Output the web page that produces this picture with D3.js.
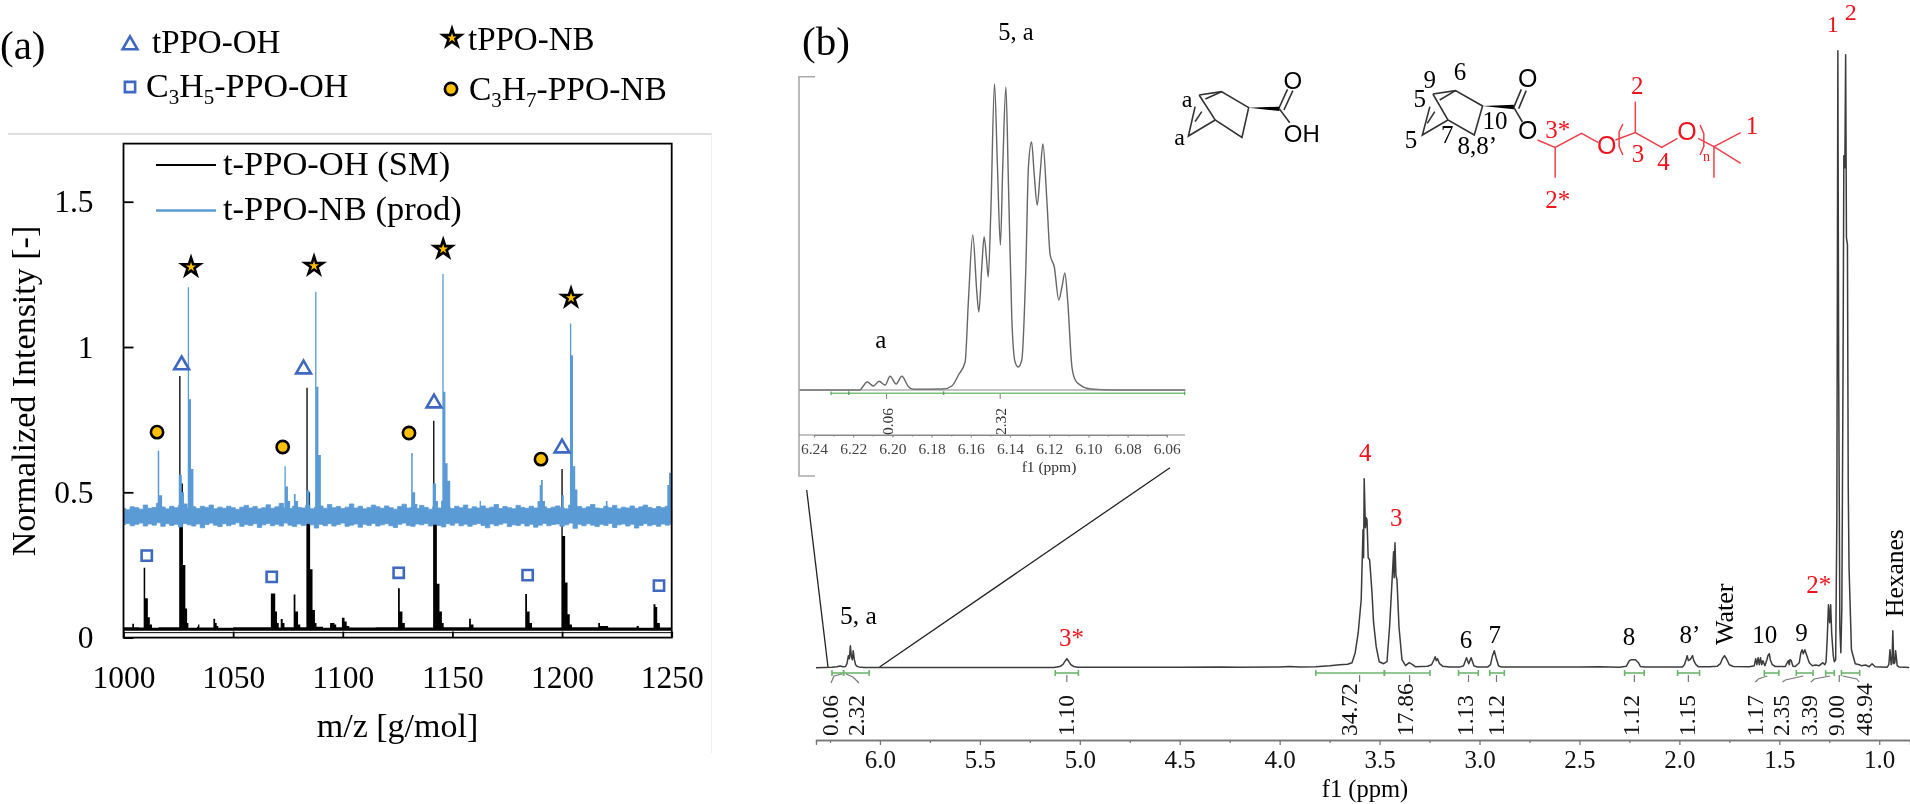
<!DOCTYPE html>
<html>
<head>
<meta charset="utf-8">
<script src="https://cdn.jsdelivr.net/npm/d3@7"></script>
<style>
html, body { margin: 0; padding: 0; background: #fff; }
svg { display: block; filter: blur(0.45px); }
text { font-family: "Liberation Serif", "Times New Roman", serif; fill: #000; }
.axis-a .domain { display: none; }
.axis-a line { stroke: #000; stroke-width: 1.8; }
.axis-a text { font-size: 31.5px; font-family: "Liberation Serif", serif; }
.axis-b .domain, .axis-b line { stroke: #777; stroke-width: 1.3; }
.axis-b text { font-size: 25px; font-family: "Liberation Serif", serif; fill: #111; }
.axis-c .domain, .axis-c line { stroke: #888; stroke-width: 1.2; }
.axis-c text { font-size: 15.5px; font-family: "Liberation Serif", serif; fill: #444; }
</style>
</head>
<body>
<div id="chart"></div>
<script>
// ---- panel (a), MALDI spectra ----
var blackMz = [1000,1004,1004.8,1007,1009.2,1009.9,1011.1,1012,1013,1016,1025.4,1026,1027.1,1028.2,1029,1029.6,1033.5,1034,1034.6,1041,1041.8,1042.5,1043.2,1050,1067.2,1069.2,1070,1070.8,1071.7,1072.6,1073.4,1077.6,1078.4,1079.6,1080.6,1083.4,1084,1085.1,1086.2,1087.3,1088,1091,1094.2,1096.2,1097,1099.6,1100.8,1101.8,1103,1115,1125.2,1126,1127.2,1128.3,1141.2,1141.8,1142.9,1144.1,1145.2,1146,1157.6,1158.4,1159.6,1183.2,1184,1185.2,1186.3,1199.7,1200.3,1201.4,1202.5,1203.5,1204.5,1216.5,1217.3,1220,1221,1234,1235,1241.7,1242.6,1243.4,1244.6,1250];
var blackInt = [.036,.048,.036,.035,.24,.135,.07,.045,.034,.036,.90,.53,.25,.1,.05,.034,.037,.045,.035,.065,.05,.04,.034,.036,.152,.09,.05,.035,.064,.05,.036,.148,.09,.045,.036,.86,.50,.235,.095,.05,.037,.034,.05,.045,.036,.068,.055,.04,.035,.036,.17,.09,.05,.035,.746,.45,.185,.09,.05,.036,.065,.045,.035,.15,.09,.05,.035,.58,.35,.19,.08,.045,.036,.05,.04,.04,.035,.04,.034,.115,.105,.05,.035,.035];

var blueMz = [1000,1015.6,1016.3,1017.6,1018.6,1025.2,1026.6,1027.6,1028.4,1029.3,1029.9,1030.8,1031.9,1073.4,1074,1075,1076,1077.7,1078.5,1079.6,1080,1083.4,1084.8,1085.6,1087.4,1088,1088.9,1090,1090.6,1131.2,1131.9,1133,1134,1141,1142.5,1143.4,1145.4,1146,1146.8,1147.8,1149,1162.4,1163,1189.8,1190.4,1191.2,1192.2,1199.8,1200.8,1203.6,1204.2,1205,1206,1207,1220,1220.7,1248,1248.8,1250];
var blueInt = [.42,.643,.49,.45,.42,.56,.50,.44,.42,1.206,.82,.58,.42,.59,.52,.47,.42,.494,.47,.44,.42,.507,.44,.42,1.19,.863,.628,.45,.42,.635,.5,.46,.42,.53,.47,.42,1.251,.846,.60,.54,.42,.47,.42,.525,.542,.47,.42,.49,.42,1.081,.972,.59,.51,.42,.47,.42,.525,.567,.42];

// noise band of the product trace, read every 2 m/z from 1000 up
var noiseHigh = [.445,.44,.45,.447,.442,.456,.445,.448,.462,.449,
  .443,.452,.447,.455,.46,.446,.45,.444,.452,.448,
  .456,.443,.449,.445,.452,.447,.441,.449,.455,.446,
  .451,.443,.447,.457,.445,.45,.462,.447,.444,.452,
  .448,.446,.455,.443,.449,.453,.445,.458,.447,.451,
  .444,.449,.46,.446,.452,.443,.448,.456,.45,.445,
  .453,.447,.442,.451,.459,.446,.449,.444,.455,.448,
  .442,.45,.446,.47,.448,.444,.452,.447,.456,.443,
  .45,.446,.453,.445,.449,.458,.444,.451,.447,.443,
  .455,.448,.445,.452,.446,.468,.45,.444,.449,.453,
  .447,.443,.456,.448,.451,.445,.45,.458,.446,.444,
  .452,.447,.455,.443,.449,.446,.453,.445,.45,.456,
  .448,.444,.451,.447,.452,.446];
var noiseLow = [.389,.393,.385,.39,.394,.384,.391,.387,.395,.383,
  .392,.386,.39,.381,.393,.388,.384,.391,.378,.389,
  .394,.387,.382,.392,.385,.39,.395,.383,.389,.386,
  .392,.379,.388,.393,.385,.39,.384,.394,.387,.382,
  .391,.386,.393,.388,.377,.39,.385,.392,.384,.389,
  .394,.383,.387,.391,.38,.39,.386,.393,.384,.388,
  .392,.385,.379,.39,.394,.386,.383,.391,.388,.393,
  .384,.39,.386,.381,.392,.387,.394,.385,.39,.383,
  .389,.393,.386,.378,.391,.385,.39,.394,.382,.388,
  .386,.392,.384,.39,.38,.387,.393,.385,.389,.391,
  .383,.388,.394,.376,.39,.385,.392,.387,.382,.39,
  .386,.393,.379,.388,.391,.384,.39,.377,.386,.392,
  .385,.389,.383,.391,.387,.39];

var xTicksA = [1000,1050,1100,1150,1200,1250];
var yTicksA = [0,0.5,1,1.5];

var starMz = [1030.8,1086.9,1145.8,1204.1],     starY = [1.275,1.279,1.337,1.169];
var triMz = [1026.5,1082.1,1141.6,1200],        triY = [.938,.924,.807,.652];
var circMz = [1015.3,1072.6,1130.2,1190.4],     circY = [.707,.656,.704,.614];
var squareMz = [1010.6,1067.6,1125.5,1184.3,1244.2], squareY = [.282,.209,.223,.215,.179];

// ---- panel (b), 1H NMR, intensity in the same units for both scales ----
var nmrPpm = [6.32,6.24,6.215,6.20,6.185,6.172,6.165,6.158,6.153,6.148,6.143,6.138,6.134,6.128,6.122,6.115,6.105,6.08,5.13,5.10,5.085,5.072,5.065,5.058,5.045,5.03,5.01,4.5,4.3,4.2,4.0,3.95,3.9,3.82,3.75,3.70,3.66,3.638,3.622,3.607,3.592,3.583,3.58,3.577,3.571,3.567,3.563,3.557,3.55,3.545,3.538,3.53,3.517,3.502,3.48,3.463,3.45,3.44,3.43,3.427,3.423,3.418,3.413,3.403,3.388,3.37,3.352,3.335,3.322,3.26,3.24,3.228,3.222,3.216,3.21,3.2,3.185,3.15,3.1,3.08,3.065,3.054,3.042,3.028,3.01,2.96,2.945,2.935,2.926,2.917,2.905,2.89,2.5,2.4,2.3,2.265,2.25,2.24,2.22,2.205,2.195,2.17,1.985,1.975,1.965,1.961,1.955,1.947,1.94,1.934,1.928,1.917,1.905,1.85,1.81,1.795,1.785,1.774,1.762,1.75,1.73,1.65,1.625,1.618,1.612,1.606,1.6,1.594,1.588,1.582,1.572,1.562,1.557,1.55,1.545,1.535,1.52,1.47,1.455,1.45,1.447,1.44,1.432,1.42,1.40,1.392,1.386,1.38,1.372,1.362,1.35,1.335,1.318,1.30,1.282,1.272,1.266,1.26,1.254,1.248,1.243,1.238,1.23,1.225,1.218,1.212,1.207,1.203,1.197,1.192,1.187,1.181,1.177,1.172,1.168,1.164,1.159,1.155,1.151,1.139,1.12,1.10,1.09,1.068,1.05,1.036,1.02,.96,.952,.946,.94,.936,.932,.927,.922,.918,.91,.90,.85];
var nmrInt = [0,.5,1,1.6,1,1.2,4,12,9,22,11,8,17,8,3,1.5,.8,.3,.3,1.2,3,7,9,7,3,1.2,.4,.4,.8,.5,.8,1.2,.6,1,2,3,3.5,5,15,35,68,138,110,189,140,150,148,110,108,95,75,45,21,6,4,6,41,78,116,90,125,92,88,41,8,2,5,3,1,1.5,3,8,11,7,9,4,1.5,.6,.6,2,10,4,10,2,.6,.6,3,12,17,10,2,.6,.6,1,.5,1.5,7,8,8,5,1.2,.6,.8,3,9,12,7,8,10,12,7,3,1,1,1.5,4,9,12,8,3,1.2,1,2,9,3,10,3,10,3,7,2,8,12,14,8,3,1.2,1.2,7,3,8,7,1.5,1.2,5,15,18,14,18,12,5,2,2.7,2,5,3,6,30,63,45,63,35,12,6,8,150,617,300,40,15,60,300,512,500,613,430,423,180,100,18,4,3,2,2.7,1,4,1,.5,3,18,3,5,37,4,5,17,2,.6,.3];

var insetPpm = [6.2471,6.2165,6.2157,6.2128,6.2097,6.2068,6.2037,6.2012,6.1981,6.1952,6.1918,6.1893,6.174,6.1697,6.1663,6.1629,6.1612,6.159,6.1569,6.1559,6.1544,6.1532,6.1518,6.1511,6.1498,6.1479,6.1464,6.1449,6.1437,6.1421,6.1408,6.1391,6.1374,6.1358,6.134,6.1319,6.1306,6.129,6.1277,6.1261,6.1246,6.1232,6.1212,6.1195,6.1174,6.1151,6.1135,6.112,6.1106,6.1084,6.1067,6.1042,6.0991,6.0871,6.0505];
var insetInt = [0,0,1.7,8,4,8.7,5,13.7,6,13.7,3.3,.7,1,4,15,28,90,155,97,78,123,153,127,113,177,306,223,145,223,303,207,73,28,23,30,123,223,248,217,185,217,246,190,135,123,90,103,117,90,23,10,5,1,0,0];

var nmrTicks = [6,5.5,5,4.5,4,3.5,3,2.5,2,1.5,1];
var nmrMinor = [6.25,5.75,5.25,4.75,4.25,3.75,3.25,2.75,2.25,1.75,1.25];
var insetTicks = [6.24,6.22,6.20,6.18,6.16,6.14,6.12,6.10,6.08,6.06];
var insetMinor = [6.23,6.21,6.19,6.17,6.15,6.13,6.11,6.09,6.07];

var integralFrom = [6.24,6.182,5.123,3.819,3.476,3.105,2.949,2.274,2.009,1.575,1.415,1.268,1.189];
var integralTo   = [6.182,6.054,5.007,3.476,3.248,3.006,2.876,2.176,1.899,1.502,1.331,1.225,1.098];
var integralLabels = ["0.06","2.32","1.10","34.72","17.86","1.13","1.12","1.12","1.15","1.17","2.35","3.39","9.00","48.94"];
var integralLabelPpm = [6.21,6.078,5.028,3.614,3.334,3.032,2.879,2.201,1.92,1.583,1.453,1.311,1.176,1.036];
var integralTickPpm = [5.065,3.60,3.35,3.055,2.915,2.225,1.955,1.2];

var insetFrom = [6.2313,6.2223,6.1739], insetTo = [6.2223,6.1739,6.0509];
var insetLabels = ["0.06","2.32"], insetLabelPpm = [6.203,6.145];

var peakLabels = ["5, a","3*","4","3","6","7","8","8’","10","9","2*","1","2"];
var peakPpm = [6.108,5.041,3.572,3.417,3.068,2.924,2.252,1.947,1.573,1.389,1.303,1.232,1.142];
var peakInt = [44,22,207,142,20,25,23,25,25,27,75,636,648];
var peakRed = ["3*","4","3","2*","1","2"];

// ---- drawing ----
var width = 1910, height = 804;
var svg = d3.select("#chart").append("svg")
    .attr("width", width)
    .attr("height", height);

function label(g, str, x, y, size, anchor, color, rotate) {
    var t = g.append("text")
        .attr("font-size", size)
        .attr("text-anchor", anchor || "start")
        .style("fill", color || "#000")
        .text(str);
    if (rotate) {
        t.attr("transform", "translate(" + x + "," + y + ") rotate(-90)");
    } else {
        t.attr("x", x).attr("y", y);
    }
    return t;
}

function poly(g, pts, sx, sy, color, w) {
    g.append("path")
        .attr("d", d3.line().x(function (d) { return sx(d[0]); }).y(function (d) { return sy(d[1]); })(pts))
        .attr("fill", "none")
        .attr("stroke", color)
        .attr("stroke-width", w);
}

// marker glyphs used both in the plot and the legend above it
function marker(g, type, x, y) {
    var shape = { star: d3.symbolStar, tri: d3.symbolTriangle, circ: d3.symbolCircle, square: d3.symbolSquare }[type];
    var size = { star: 100, tri: 95, circ: 118, square: 105 }[type];
    g.append("path")
        .attr("d", d3.symbol(shape, size)())
        .attr("transform", "translate(" + x + "," + y + ")")
        .attr("fill", type == "star" || type == "circ" ? "#ffc000" : "#fff")
        .attr("stroke", type == "star" || type == "circ" ? "#000" : "#3f68c0")
        .attr("stroke-width", type == "star" ? 2.6 : 2.6)
        .attr("stroke-linejoin", "miter")
        .attr("stroke-miterlimit", 8);
}

// ---------- panel (a)
var a = svg.append("g");
var x = d3.scaleLinear().domain([1000, 1250]).range([123.5, 671.7]);
var y = d3.scaleLinear().domain([0, 1.7]).range([637.6, 143.6]);

a.append("line").attr("x1", 8).attr("x2", 712).attr("y1", 134).attr("y2", 134).attr("stroke", "#d4d4d4").attr("stroke-width", 1.5);
a.append("line").attr("x1", 711.5).attr("x2", 711.5).attr("y1", 134).attr("y2", 753).attr("stroke", "#eeeeee").attr("stroke-width", 1);

label(a, "(a)", 0, 59, 41);
label(a, "(b)", 802, 55, 41);

marker(a, "tri", 130, 45);
label(a, "tPPO-OH", 152, 53, 33);
marker(a, "square", 130, 87);
var c5 = label(a, "C", 146, 97, 34);
c5.append("tspan").attr("font-size", 21).attr("dy", 7).text("3");
c5.append("tspan").attr("dy", -7).text("H");
c5.append("tspan").attr("font-size", 21).attr("dy", 7).text("5");
c5.append("tspan").attr("dy", -7).text("-PPO-OH");
marker(a, "star", 452, 38);
label(a, "tPPO-NB", 468, 50, 33);
marker(a, "circ", 451, 89);
var c7 = label(a, "C", 469, 100, 33.5);
c7.append("tspan").attr("font-size", 21).attr("dy", 7).text("3");
c7.append("tspan").attr("dy", -7).text("H");
c7.append("tspan").attr("font-size", 21).attr("dy", 7).text("7");
c7.append("tspan").attr("dy", -7).text("-PPO-NB");

var blackArea = d3.area()
    .curve(d3.curveStepAfter)
    .x(function (d) { return x(d[0]); })
    .y0(y(0.024))
    .y1(function (d) { return y(d[1]); });
a.append("path").attr("d", blackArea(d3.zip(blackMz, blackInt))).attr("fill", "#000");

var blueArea = d3.area()
    .curve(d3.curveStepAfter)
    .x(function (d) { return x(d[0]); })
    .y0(y(0.41))
    .y1(function (d) { return y(d[1]); });
a.append("path").attr("d", blueArea(d3.zip(blueMz, blueInt))).attr("fill", "#5b9bd5");

var noise = noiseHigh.map(function (v, i) { return [1000 + i * 2, v, noiseLow[i]]; });
a.append("path")
    .attr("d", d3.area()
        .curve(d3.curveStep)
        .x(function (d) { return x(d[0]); })
        .y0(function (d) { return y(d[2]); })
        .y1(function (d) { return y(d[1]); })(noise))
    .attr("fill", "#5b9bd5")
    .attr("stroke", "#5b9bd5")
    .attr("stroke-width", 0.8);

// frame and the axis line just under the black trace
a.append("rect")
    .attr("x", x(1000)).attr("y", y(1.7))
    .attr("width", x(1250) - x(1000)).attr("height", y(0) - y(1.7))
    .attr("fill", "none").attr("stroke", "#000").attr("stroke-width", 1.8);
a.append("line")
    .attr("x1", x(1000)).attr("x2", x(1250))
    .attr("y1", y(0.017)).attr("y2", y(0.017))
    .attr("stroke", "#000").attr("stroke-width", 1);

a.append("g").attr("class", "axis-a")
    .attr("transform", "translate(0," + y(0) + ")")
    .call(d3.axisBottom(x).tickValues(xTicksA).tickSize(-6).tickPadding(28).tickFormat(d3.format("d")));
a.append("g").attr("class", "axis-a")
    .attr("transform", "translate(" + x(1000) + ",0)")
    .call(d3.axisLeft(y).tickValues(yTicksA).tickSize(-10).tickPadding(30).tickFormat(function (d) { return d; }));

label(a, "m/z [g/mol]", 397.5, 737, 34, "middle");
label(a, "Normalized Intensity [-]", 35, 391, 34, "middle", "#000", true);

a.append("line").attr("x1", 156).attr("x2", 216).attr("y1", 165).attr("y2", 165).attr("stroke", "#000").attr("stroke-width", 2);
label(a, "t-PPO-OH (SM)", 223, 175, 34.5);
a.append("line").attr("x1", 156).attr("x2", 216).attr("y1", 210.5).attr("y2", 210.5).attr("stroke", "#5b9bd5").attr("stroke-width", 2.4);
label(a, "t-PPO-NB (prod)", 223, 220, 34.5);

starMz.forEach(function (m, i) { marker(a, "star", x(m), y(starY[i])); });
triMz.forEach(function (m, i) { marker(a, "tri", x(m), y(triY[i])); });
circMz.forEach(function (m, i) { marker(a, "circ", x(m), y(circY[i])); });
squareMz.forEach(function (m, i) { marker(a, "square", x(m), y(squareY[i])); });

// ---------- panel (b) main spectrum
var b = svg.append("g");
var px = d3.scaleLinear().domain([6.32, 0.846]).range([816, 1910]);
var py = d3.scaleLinear().domain([0, 620]).range([667.7, 47.7]);

var specLine = d3.line()
    .x(function (d) { return px(d[0]); })
    .y(function (d) { return py(d[1]); });

// zoom guide lines
b.append("line").attr("x1", 806.7).attr("y1", 490).attr("x2", 828).attr("y2", 667).attr("stroke", "#222").attr("stroke-width", 1.3);
b.append("line").attr("x1", 879.6).attr("y1", 667).attr("x2", 1170).attr("y2", 467.7).attr("stroke", "#222").attr("stroke-width", 1.3);

b.append("path").attr("d", specLine(d3.zip(nmrPpm, nmrInt)))
    .attr("fill", "none").attr("stroke", "#3c3c3c").attr("stroke-width", 1.5).attr("stroke-linejoin", "round");

var intY = 673;
integralFrom.forEach(function (from, i) {
    var g = b.append("g").attr("stroke", "#6cb56c").attr("stroke-width", 1.6);
    g.append("line").attr("x1", px(from)).attr("x2", px(integralTo[i])).attr("y1", intY).attr("y2", intY);
    [from, integralTo[i]].forEach(function (p) {
        g.append("line").attr("x1", px(p)).attr("x2", px(p)).attr("y1", intY - 3).attr("y2", intY + 3);
    });
});
integralTickPpm.forEach(function (p) {
    b.append("line").attr("x1", px(p)).attr("x2", px(p)).attr("y1", 675).attr("y2", 682).attr("stroke", "#777").attr("stroke-width", 1.2);
});

// curved integral leaders in spectrum coordinates
var leaders = [
    [[6.245, 683], [6.23, 676], [6.19, 674]],
    [[6.17, 674], [6.135, 677], [6.105, 683]],
    [[1.62, 682], [1.605, 679], [1.56, 676]],
    [[1.484, 682], [1.47, 680], [1.38, 676]],
    [[1.342, 682], [1.325, 679], [1.246, 676]],
    [[1.183, 676], [1.112, 679], [1.10, 682]]
];
leaders.forEach(function (l) {
    poly(b, l, px, function (v) { return v; }, "#777", 1.2);
});

integralLabels.forEach(function (t, i) {
    label(b, t, px(integralLabelPpm[i]), 736, 23.5, "start", "#111", true);
});

b.append("g").attr("class", "axis-b")
    .attr("transform", "translate(0,740)")
    .call(d3.axisBottom(px).tickValues(nmrTicks).tickSize(5).tickPadding(5).tickFormat(d3.format(".1f")));
b.append("g").attr("class", "axis-b")
    .attr("transform", "translate(0,740)")
    .call(d3.axisBottom(px).tickValues(nmrMinor).tickSize(3).tickFormat(""));
label(b, "f1 (ppm)", 1365, 797, 24.5, "middle");

peakLabels.forEach(function (t, i) {
    var size = (t == "1" || t == "2") ? 24 : (t == "5, a" ? 25.5 : 25);
    label(b, t, px(peakPpm[i]), py(peakInt[i]), size, "middle", peakRed.indexOf(t) >= 0 ? "#f0141e" : "#000");
});
label(b, "Water", 1733, 645, 26, "start", "#000", true);
label(b, "Hexanes", 1902.5, 617, 25.5, "start", "#000", true);

// ---------- panel (b) inset
var ix = d3.scaleLinear().domain([6.24, 6.06]).range([814, 1166.8]);
var iy = d3.scaleLinear().domain([0, 306]).range([390, 84]);

poly(b, [[815, 76.7], [799, 76.7], [799, 476], [815, 476]], function (v) { return v; }, function (v) { return v; }, "#aaa", 1.6);

b.append("path")
    .attr("d", d3.line().x(function (d) { return ix(d[0]); }).y(function (d) { return iy(d[1]); }).curve(d3.curveMonotoneX)(d3.zip(insetPpm, insetInt)))
    .attr("fill", "none").attr("stroke", "#666").attr("stroke-width", 1.4);

insetFrom.forEach(function (from, i) {
    b.append("line").attr("x1", ix(from)).attr("x2", ix(insetTo[i])).attr("y1", 393.3).attr("y2", 393.3).attr("stroke", "#7cc07c").attr("stroke-width", 1.6);
    [from, insetTo[i]].forEach(function (p) {
        b.append("line").attr("x1", ix(p)).attr("x2", ix(p)).attr("y1", 391.5).attr("y2", 395).attr("stroke", "#5aa85a").attr("stroke-width", 1.3);
    });
});
insetLabelPpm.forEach(function (p, i) {
    b.append("line").attr("x1", ix(p)).attr("x2", ix(p)).attr("y1", 394).attr("y2", 399).attr("stroke", "#888").attr("stroke-width", 1.1);
    label(b, insetLabels[i], ix(p) + 6, 435, 15.5, "start", "#333", true);
});

b.append("g").attr("class", "axis-c")
    .attr("transform", "translate(0,435)")
    .call(d3.axisBottom(ix).tickValues(insetTicks).tickSize(2.5).tickSizeOuter(0).tickPadding(5).tickFormat(d3.format(".2f")));
b.append("g").attr("class", "axis-c")
    .attr("transform", "translate(0,435)")
    .call(d3.axisBottom(ix).tickValues(insetMinor).tickSize(1.5).tickFormat(""));
// the inset rules run a little past the scale, out to the bracket and to the right end
b.append("line").attr("x1", 799).attr("x2", 1185).attr("y1", 435).attr("y2", 435).attr("stroke", "#888").attr("stroke-width", 1.2);
b.append("line").attr("x1", 799).attr("x2", 1185).attr("y1", 390).attr("y2", 390).attr("stroke", "#888").attr("stroke-width", 1.2);
label(b, "f1 (ppm)", 1049, 471.7, 15.5, "middle", "#333");
label(b, "a", 880.7, 348, 25, "middle");
label(b, "5, a", 1016, 39.5, 24.5, "middle");

// ---------- structures
var acid = svg.append("g");
var ax = d3.scaleLinear().domain([0, 1568]).range([1100, 1800]);
var ay = d3.scaleLinear().domain([0, 660]).range([30, 250]);
[
    [[222,195],[272,185],[333,233],[318,322],[258,270],[222,195]],
    [[258,270],[198,318],[213,230]],
    [[213,275],[228,245]],
    [[236,207],[272,185]],
    [[400,237],[420,178]],
    [[412,240],[432,182]],
    [[402,237],[425,278]]
].forEach(function (p) { poly(acid, p, ax, ay, "#333", 1.6); });
acid.append("polygon")
    .attr("points", [[333,233],[402,230],[402,243]].map(function (p) { return ax(p[0]) + "," + ay(p[1]); }).join(" "))
    .attr("fill", "#000");
label(acid, "a", ax(195), ay(232), 24, "middle");
label(acid, "a", ax(178), ay(345), 24, "middle");
label(acid, "O", ax(432), ay(178), 24, "middle").style("font-family", "'Liberation Sans', sans-serif");
label(acid, "OH", ax(452), ay(335), 24, "middle").style("font-family", "'Liberation Sans', sans-serif");

var ester = svg.append("g");
var ex = d3.scaleLinear().domain([0, 1568]).range([1320, 1910]);
var ey = d3.scaleLinear().domain([0, 900]).range([0, 300]);
[
    [[300,282],[360,272],[432,318],[410,405],[340,360],[300,282]],
    [[340,360],[272,405],[292,320]],
    [[285,370],[305,335]],
    [[318,300],[360,272]],
    [[515,322],[535,268]],
    [[528,326],[548,272]],
    [[515,322],[538,366]]
].forEach(function (p) { poly(ester, p, ex, ey, "#333", 1.6); });
ester.append("polygon")
    .attr("points", [[432,318],[515,314],[515,328]].map(function (p) { return ex(p[0]) + "," + ey(p[1]); }).join(" "))
    .attr("fill", "#000");
[
    [[578,420],[625,442],[695,400],[740,428]],
    [[625,442],[625,533]],
    [[785,420],[838,398],[908,442],[950,415]],
    [[838,398],[838,305]],
    [[1005,415],[1047,440],[1118,398]],
    [[1047,440],[1118,490]],
    [[1047,440],[1047,533]],
    [[805,372],[795,395],[795,440],[805,465]],
    [[1010,375],[1020,400],[1020,440],[1010,465]]
].forEach(function (p) { poly(ester, p, ex, ey, "#f0404a", 1.5); });
function esterText(t, zx, zy, size, color, sans) {
    var l = label(ester, t, ex(zx), ey(zy), size, "middle", color);
    if (sans) l.style("font-family", "'Liberation Sans', sans-serif");
}
esterText("O", 552, 260, 25, "#000", true);
esterText("O", 552, 418, 25, "#000", true);
esterText("O", 762, 463, 25, "#f0141e", true);
esterText("O", 975, 420, 25, "#f0141e", true);
esterText("n", 1027, 482, 14, "#f0141e");
[["6",372,240],["9",292,265],["5",265,320],["5",242,445],["7",338,430],["10",465,387],["8,8’",418,463]].forEach(function (d) {
    esterText(d[0], d[1], d[2], 25, "#000");
});
[["3*",632,415],["2",843,282],["3",845,487],["4",913,510],["1",1148,402],["2*",632,625]].forEach(function (d) {
    esterText(d[0], d[1], d[2], 25, "#f0141e");
});
</script>
</body>
</html>
